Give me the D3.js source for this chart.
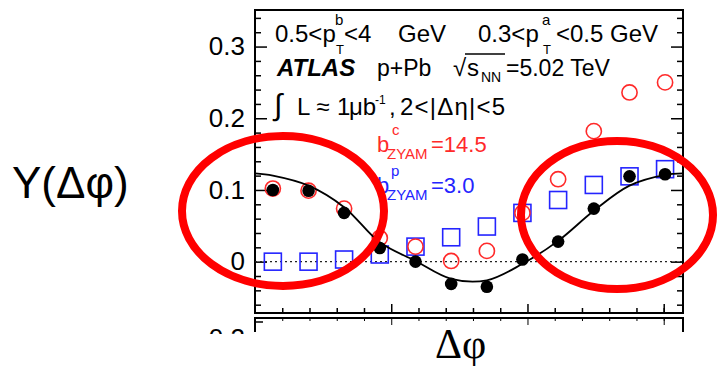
<!DOCTYPE html>
<html>
<head>
<meta charset="utf-8">
<script src="https://cdn.jsdelivr.net/npm/d3@7"></script>
<style>
  body { margin: 0; background: #fff; }
  svg { display: block; font-family: "Liberation Sans", Arial, Helvetica, sans-serif; }
</style>
</head>
<body>
<div id="chart"></div>
<script>
// bin centres in delta phi (rad), 12 bins over [0, pi]
var dphi = [0.131, 0.393, 0.654, 0.916, 1.178, 1.440, 1.702, 1.963, 2.225, 2.487, 2.749, 3.010];

// black dots: total
var yTotal = [0.100, 0.099, 0.068, 0.019, 0.000, -0.031, -0.035, 0.003, 0.028, 0.074, 0.119, 0.122];
// red open circles
var yRed = [0.102, 0.099, 0.074, 0.033, 0.021, 0.001, 0.015, 0.068, 0.115, 0.182, 0.236, 0.250];
// blue open squares
var yBlue = [0.000, 0.000, 0.003, 0.010, 0.021, 0.034, 0.049, 0.068, 0.086, 0.107, 0.119, 0.129];

// fit curve
var fitPhi = [0, 0.131, 0.393, 0.654, 0.916, 1.178, 1.440, 1.702, 1.963, 2.225, 2.487, 2.749, 3.010, 3.1416];
var fitY = [0.123, 0.120, 0.106, 0.076, 0.027, 0.001, -0.024, -0.026, -0.003, 0.029, 0.071, 0.106, 0.121, 0.123];

var yMajor = [0, 0.1, 0.2, 0.3];
var yMinor = [-0.06, -0.04, -0.02, 0.02, 0.04, 0.06, 0.08, 0.12, 0.14, 0.16, 0.18, 0.22, 0.24, 0.26, 0.28, 0.32, 0.34];
var xMajor = [1, 2, 3];
var xMinor = [0.2, 0.4, 0.6, 0.8, 1.2, 1.4, 1.6, 1.8, 2.2, 2.4, 2.6, 2.8, 3.0];

var margin = {top: 10, right: 36, bottom: 53, left: 255},
  width = 719 - margin.left - margin.right,
  height = 366 - margin.top - margin.bottom;

var red = "#ff2a2a", blue = "#2424ff";

var xScale = d3.scaleLinear().domain([0, Math.PI]).range([0, width]);
var yScale = d3.scaleLinear().domain([-0.0716, 0.351]).range([height, 0]);

var svg = d3.select("#chart").append("svg")
  .attr("width", 719)
  .attr("height", 366);

var g = svg.append("g")
  .attr("transform", "translate(" + margin.left + "," + margin.top + ")");

// lower panel (cut off)
svg.append("clipPath").attr("id", "cut")
  .append("rect").attr("x", 0).attr("y", 0).attr("width", 719).attr("height", 334);

var lower = svg.append("g")
  .attr("clip-path", "url(#cut)")
  .append("g")
  .attr("transform", "translate(" + margin.left + "," + (margin.top + height + 5) + ")");

lower.append("path")
  .attr("d", "M0,14V0H" + width + "V14")
  .attr("fill", "none")
  .attr("stroke", "#000")
  .attr("stroke-width", 2);

lower.append("g").call(d3.axisBottom(xScale).tickValues(xMajor).tickSize(7).tickFormat(""));
lower.append("g").call(d3.axisBottom(xScale).tickValues(xMinor).tickSize(3).tickFormat(""));
lower.selectAll(".domain").remove();
lower.append("line").attr("x1", 0).attr("x2", 8).attr("y1", 4).attr("y2", 4).attr("stroke", "#000").attr("stroke-width", 1.5);
lower.append("text")
  .attr("x", -10).attr("y", 29)
  .attr("text-anchor", "end")
  .style("font-size", "26px")
  .text("0.2");

// axes with inward ticks
function axes() {
  g.append("g").attr("class", "axis").call(d3.axisLeft(yScale).tickValues(yMajor).tickSize(-12).tickPadding(10)
    .tickFormat(function(d) { return d === 0 ? "0" : d3.format(".1f")(d); }));
  g.append("g").attr("class", "axis").call(d3.axisLeft(yScale).tickValues(yMinor).tickSize(-6).tickFormat(""));
  g.append("g").attr("class", "axis").attr("transform", "translate(" + width + ",0)")
    .call(d3.axisRight(yScale).tickValues(yMajor).tickSize(-12).tickFormat(""));
  g.append("g").attr("class", "axis").attr("transform", "translate(" + width + ",0)")
    .call(d3.axisRight(yScale).tickValues(yMinor).tickSize(-6).tickFormat(""));
  g.append("g").attr("class", "axis").attr("transform", "translate(0," + height + ")")
    .call(d3.axisBottom(xScale).tickValues(xMajor).tickSize(-9).tickFormat(""));
  g.append("g").attr("class", "axis").attr("transform", "translate(0," + height + ")")
    .call(d3.axisBottom(xScale).tickValues(xMinor).tickSize(-5).tickFormat(""));

  g.selectAll(".axis .domain").remove();
  g.selectAll(".axis line").attr("stroke", "#000").attr("stroke-width", 1.5);
  g.selectAll(".axis text")
    .style("font-size", "26px")
    .style("font-family", "'Liberation Sans', Arial, sans-serif")
    .attr("fill", "#000");
}
axes();

g.append("rect")
  .attr("width", width)
  .attr("height", height)
  .attr("fill", "none")
  .attr("stroke", "#000")
  .attr("stroke-width", 2);

// dotted zero line
g.append("line")
  .attr("x1", 0).attr("x2", width)
  .attr("y1", yScale(0)).attr("y2", yScale(0))
  .attr("stroke", "#222")
  .attr("stroke-width", 1.2)
  .attr("stroke-dasharray", "2,3");

// blue squares
var sq = 17;
g.selectAll(".sq").data(dphi).enter().append("rect")
  .attr("class", "sq")
  .attr("x", function(d) { return xScale(d) - sq / 2; })
  .attr("y", function(d, i) { return yScale(yBlue[i]) - sq / 2; })
  .attr("width", sq)
  .attr("height", sq)
  .attr("fill", "none")
  .attr("stroke", blue)
  .attr("stroke-width", 1.6);

// red circles
g.selectAll(".oc").data(dphi).enter().append("circle")
  .attr("class", "oc")
  .attr("cx", function(d) { return xScale(d); })
  .attr("cy", function(d, i) { return yScale(yRed[i]); })
  .attr("r", 7.6)
  .attr("fill", "none")
  .attr("stroke", red)
  .attr("stroke-width", 1.6);

// fit
var line = d3.line()
  .x(function(d) { return xScale(d); })
  .y(function(d, i) { return yScale(fitY[i]); })
  .curve(d3.curveCatmullRom);

g.append("path")
  .datum(fitPhi)
  .attr("d", line)
  .attr("fill", "none")
  .attr("stroke", "#000")
  .attr("stroke-width", 1.8);

// black dots
g.selectAll(".dot").data(dphi).enter().append("circle")
  .attr("class", "dot")
  .attr("cx", function(d) { return xScale(d); })
  .attr("cy", function(d, i) { return yScale(yTotal[i]); })
  .attr("r", 6.3)
  .attr("fill", "#000");

// labels
function txt(x, y, s, size, opts) {
  opts = opts || {};
  return svg.append("text")
    .attr("x", x)
    .attr("y", y)
    .attr("fill", opts.fill || "#000")
    .style("font-size", size + "px")
    .style("font-weight", opts.weight || null)
    .style("font-style", opts.style || null)
    .style("font-family", opts.family || null)
    .style("letter-spacing", opts.ls || null)
    .text(s);
}

txt(275, 42, "0.5<p", 24);
txt(335, 25, "b", 15);
txt(336, 54, "T", 13);
txt(344, 42, "<4", 24);
txt(398, 42, "GeV", 24);
txt(478, 42, "0.3<p", 24);
txt(542, 25, "a", 15);
txt(543, 54, "T", 13);
txt(556, 42, "<0.5", 24);
txt(610, 42, "GeV", 24);

txt(277, 76, "ATLAS", 24, {weight: "bold", style: "italic"});
txt(377, 76, "p+Pb", 23);
txt(453, 76, "\u221a", 24);
svg.append("line").attr("x1", 465).attr("x2", 505).attr("y1", 54).attr("y2", 54).attr("stroke", "#000").attr("stroke-width", 1.3);
txt(467, 76, "s", 24);
txt(481, 82, "NN", 14);
txt(506, 76, "=5.02 TeV", 23);

txt(274, 115, "\u222b", 30);
txt(297, 115, "L \u2248", 24);
txt(337, 115, "1", 24);
txt(349, 115, "\u03bcb", 24);
txt(375, 104, "-1", 12);
txt(389, 115, ",", 24);
txt(400, 115, "2<|\u0394\u03b7|<5", 24, {ls: "1.2px"});

txt(377, 152, "b", 22, {fill: red});
txt(392, 135, "c", 15, {fill: red});
txt(387, 159, "ZYAM", 15, {fill: red});
txt(431, 152, "=14.5", 22, {fill: red});

txt(377, 193, "b", 22, {fill: blue});
txt(391, 176, "p", 15, {fill: blue});
txt(387, 200, "ZYAM", 15, {fill: blue});
txt(431, 193, "=3.0", 22, {fill: blue});

txt(12, 198, "Y(\u0394\u03c6)", 44);
txt(435, 358, "\u0394\u03c6", 42, {family: "'Liberation Serif', 'Times New Roman', serif"});

// annotation ellipses
svg.append("ellipse").attr("cx", 283).attr("cy", 211).attr("rx", 101).attr("ry", 75)
  .attr("fill", "none").attr("stroke", "#ff0000").attr("stroke-width", 8);
svg.append("ellipse").attr("cx", 617).attr("cy", 215).attr("rx", 96).attr("ry", 74)
  .attr("fill", "none").attr("stroke", "#ff0000").attr("stroke-width", 8);
</script>
</body>
</html>
